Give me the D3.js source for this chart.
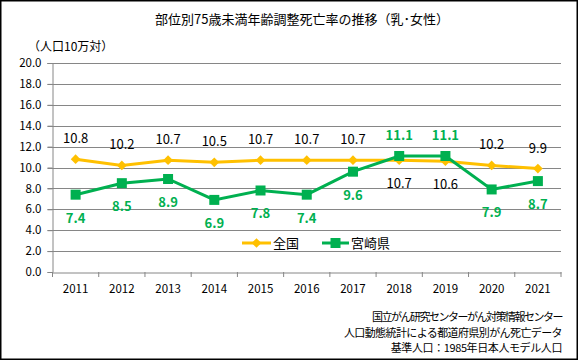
<!DOCTYPE html>
<html><head><meta charset="utf-8">
<script src="https://cdn.jsdelivr.net/npm/d3@7"></script>
<style>body{margin:0;background:#fff}text{font-family:"Noto Sans CJK JP","DejaVu Sans",sans-serif}</style>
</head><body>
<svg id="c" width="578" height="360"></svg>
<script>
const years = ["2011","2012","2013","2014","2015","2016","2017","2018","2019","2020","2021"];
const national = [10.8,10.2,10.7,10.5,10.7,10.7,10.7,10.7,10.6,10.2,9.9];
const miyazaki = [7.4,8.5,8.9,6.9,7.8,7.4,9.6,11.1,11.1,7.9,8.7];
const yTicks = [0,2,4,6,8,10,12,14,16,18,20];
const seriesNames = ["全国","宮崎県"];
const title = "部位別75歳未満年齢調整死亡率の推移（乳･女性）";
const unit = "（人口10万対）";
const sources = ["国立がん研究センターがん対策情報センター","人口動態統計による都道府県別がん死亡データ","基準人口：1985年日本人モデル人口"];

const svg = d3.select("#c");
svg.append("rect").attr("x",0.75).attr("y",0.75).attr("width",576.5).attr("height",358.5).attr("fill","#fff").attr("stroke","#000").attr("stroke-width",1.5);

const L=52.5, R=561, T=63, B=272;
const x = d3.scaleBand().domain(years).range([L,R]);
const y = d3.scaleLinear().domain([0,20]).range([B,T]);

// gridlines
svg.append("g").selectAll("line").data(yTicks.slice(1)).join("line")
  .attr("x1",L-5).attr("x2",R).attr("y1",d=>Math.round(y(d))+0.5).attr("y2",d=>Math.round(y(d))+0.5)
  .attr("stroke","#868686").attr("stroke-width",1);

// y axis
const ya = svg.append("g").attr("transform",`translate(${L},0)`).call(d3.axisLeft(y).tickValues(yTicks).tickFormat(d3.format(".1f")).tickSize(5).tickPadding(6));
ya.select(".domain").attr("stroke","#868686");
ya.selectAll(".tick line").attr("stroke","#868686");
ya.selectAll("text").attr("fill","#000").attr("font-family","'DejaVu Sans',sans-serif").attr("font-size",11.5);

// x axis
const xa = svg.append("g").attr("transform",`translate(0,${B+0.5})`).call(d3.axisBottom(x).tickSize(0).tickPadding(12));
xa.select(".domain").attr("stroke","#868686");
xa.selectAll("text").attr("fill","#000").attr("font-family","'DejaVu Sans',sans-serif").attr("font-size",11.5);
svg.append("g").selectAll("line").data(years.concat(["end"])).join("line")
  .attr("x1",(d,i)=>L+i*x.step()).attr("x2",(d,i)=>L+i*x.step())
  .attr("y1",B).attr("y2",B+5).attr("stroke","#868686");

const cx = d=>x(d)+x.bandwidth()/2;
const line = d3.line().x((d,i)=>cx(years[i])).y(d=>y(d));

const yellow="#FFC000", green="#00B050";
svg.append("path").datum(national).attr("d",line).attr("fill","none").attr("stroke",yellow).attr("stroke-width",3);
svg.append("g").selectAll("path").data(national).join("path")
  .attr("d",d3.symbol().type(d3.symbolDiamond2).size(60))
  .attr("transform",(d,i)=>`translate(${cx(years[i])},${y(d)})`).attr("fill",yellow);
svg.append("path").datum(miyazaki).attr("d",line).attr("fill","none").attr("stroke",green).attr("stroke-width",3);
svg.append("g").selectAll("rect").data(miyazaki).join("rect")
  .attr("x",(d,i)=>cx(years[i])-5).attr("y",d=>y(d)-5).attr("width",10).attr("height",10).attr("fill",green);

// labels
svg.append("g").selectAll("text").data(national).join("text")
  .attr("x",(d,i)=>cx(years[i])).attr("y",(d,i)=>national[i]>=miyazaki[i]? y(d)-16 : y(d)+28)
  .attr("text-anchor","middle").attr("font-size",13).attr("fill","#000")
  .attr("font-family","'DejaVu Sans',sans-serif").text(d=>d.toFixed(1));
svg.append("g").selectAll("text").data(miyazaki).join("text")
  .attr("x",(d,i)=>cx(years[i])).attr("y",(d,i)=>miyazaki[i]>national[i]? y(d)-16 : y(d)+28)
  .attr("text-anchor","middle").attr("font-size",13).attr("fill",green).attr("font-weight","bold")
  .attr("font-family","'DejaVu Sans',sans-serif").text(d=>d.toFixed(1));

// title
svg.append("text").attr("x",302).attr("y",24).attr("text-anchor","middle").attr("font-size",13).attr("fill","#000").text(title);
svg.append("text").attr("x",28).attr("y",51).attr("font-size",12).attr("fill","#000").text(unit);

// legend
const lg = svg.append("g");
const legItems = [{n:seriesNames[0],c:yellow,x1:242,x2:271,t:273,m:"d"},{n:seriesNames[1],c:green,x1:322,x2:349,t:351,m:"s"}];
legItems.forEach(o=>{
  lg.append("line").attr("x1",o.x1).attr("x2",o.x2).attr("y1",243).attr("y2",243).attr("stroke",o.c).attr("stroke-width",3);
  const mx=(o.x1+o.x2)/2;
  if(o.m==="d") lg.append("path").attr("d",d3.symbol().type(d3.symbolDiamond2).size(60)).attr("transform",`translate(${mx},243)`).attr("fill",o.c);
  else lg.append("rect").attr("x",mx-5).attr("y",238).attr("width",10).attr("height",10).attr("fill",o.c);
  lg.append("text").attr("x",o.t).attr("y",248).attr("font-size",13).attr("fill","#000").text(o.n);
});

// sources
const srcSp = [-1.5,-0.6,-0.4];
svg.append("g").selectAll("text").data(sources).join("text")
  .attr("x",562).attr("y",(d,i)=>321+i*15.5).attr("text-anchor","end").attr("font-size",11).attr("fill","#000")
  .attr("letter-spacing",(d,i)=>srcSp[i]).text(d=>d);
</script>
</body></html>
